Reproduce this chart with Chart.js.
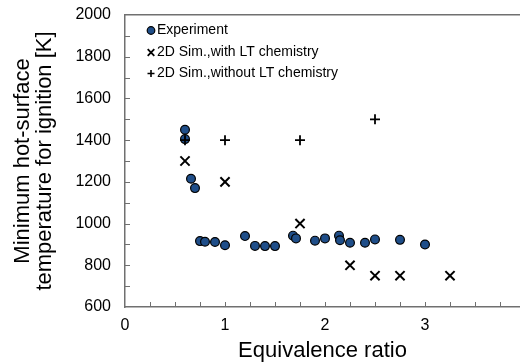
<!DOCTYPE html>
<html>
<head>
<meta charset="utf-8">
<script src="https://cdn.jsdelivr.net/npm/chart.js@4/dist/chart.umd.min.js"></script>
<style>
  html, body { margin: 0; padding: 0; background: #fff; }
  #wrap { width: 520px; height: 364px; }
</style>
</head>
<body>
<div id="wrap"><canvas id="chart" width="520" height="364"></canvas></div>
<script>
// Experiment
var expX = [0.6, 0.6, 0.66, 0.7, 0.75, 0.8, 0.9, 1.0, 1.2, 1.3, 1.4, 1.5, 1.68, 1.71, 1.9, 2.0, 2.14, 2.15, 2.25, 2.4, 2.5, 2.75, 3.0];
var expT = [1450, 1405, 1215, 1170, 916, 913, 912, 896, 940, 893, 892, 892, 942, 929, 918, 929, 942, 920, 908, 908, 924, 922, 900];
// 2D sim, with LT chemistry
var withLtX = [0.6, 1.0, 1.75, 2.25, 2.5, 2.75, 3.25];
var withLtT = [1300, 1200, 1000, 800, 750, 750, 750];
// 2D sim, without LT chemistry
var noLtX = [0.6, 1.0, 1.75, 2.5];
var noLtT = [1400, 1400, 1400, 1500];

var seriesNames = ['Experiment', '2D Sim.,with LT chemistry', '2D Sim.,without LT chemistry'];
var xTicks = [0, 1, 2, 3];
var yTicks = [600, 800, 1000, 1200, 1400, 1600, 1800, 2000];

function pts(xs, ys) {
    return xs.map(function (x, i) { return { x: x, y: ys[i] }; });
}

var axisColor = '#707070';
var fontFamily = "'Liberation Sans', Arial, sans-serif";

// small tick marks drawn inside the plot, plus the legend in the top-left corner
var innerTicks = {
    id: 'innerTicks',
    afterDraw: function (chart) {
        var ctx = chart.ctx, xs = chart.scales.x, ys = chart.scales.y;
        var a = chart.chartArea;
        ctx.save();
        ctx.strokeStyle = axisColor;
        ctx.lineWidth = 1;
        for (var v = 700; v < 2000; v += 100) {
            var py = Math.round(ys.getPixelForValue(v)) + 0.5;
            ctx.beginPath();
            ctx.moveTo(a.left, py);
            ctx.lineTo(a.left + 5, py);
            ctx.stroke();
        }
        for (var u = 0.25; u < 3.95; u += 0.25) {
            var px = Math.round(xs.getPixelForValue(u)) + 0.5;
            ctx.beginPath();
            ctx.moveTo(px, a.bottom);
            ctx.lineTo(px, a.bottom - 5);
            ctx.stroke();
        }
        ctx.restore();

        // legend
        var rows = [30.5, 52.5, 73.5];
        var mx = 151, tx = 157;
        ctx.save();
        ctx.font = '14px ' + fontFamily;
        ctx.textBaseline = 'middle';
        chart.data.datasets.forEach(function (ds, i) {
            var y = rows[i];
            ctx.fillStyle = ds.backgroundColor;
            ctx.strokeStyle = ds.borderColor;
            ctx.beginPath();
            if (ds.pointStyle === 'circle') {
                ctx.lineWidth = 1.2;
                ctx.arc(mx, y, 3.8, 0, Math.PI * 2);
                ctx.fill();
                ctx.stroke();
            } else if (ds.pointStyle === 'crossRot') {
                ctx.lineWidth = 1.8;
                var r = 3.3;
                ctx.moveTo(mx - r, y - r); ctx.lineTo(mx + r, y + r);
                ctx.moveTo(mx + r, y - r); ctx.lineTo(mx - r, y + r);
                ctx.stroke();
            } else {
                ctx.lineWidth = 1.6;
                var q = 3.5;
                ctx.moveTo(mx - q, y); ctx.lineTo(mx + q, y);
                ctx.moveTo(mx, y - q); ctx.lineTo(mx, y + q);
                ctx.stroke();
            }
            ctx.fillStyle = '#000';
            ctx.fillText(ds.label, tx, y);
        });
        ctx.restore();
    }
};

function plain(v) { return String(v); }

var ctx = document.getElementById('chart').getContext('2d');
var chart = new Chart(ctx, {
    type: 'scatter',
    data: {
        datasets: [{
            label: seriesNames[0],
            data: pts(expX, expT),
            pointStyle: 'circle',
            pointRadius: 4.4,
            backgroundColor: '#1f4e89',
            borderColor: '#000',
            borderWidth: 1.2,
            order: 2
        }, {
            label: seriesNames[1],
            data: pts(withLtX, withLtT),
            pointStyle: 'crossRot',
            pointRadius: 6.5,
            backgroundColor: '#000',
            borderColor: '#000',
            borderWidth: 2,
            order: 1
        }, {
            label: seriesNames[2],
            data: pts(noLtX, noLtT),
            pointStyle: 'cross',
            pointRadius: 5,
            backgroundColor: '#000',
            borderColor: '#000',
            borderWidth: 1.8,
            order: 0
        }]
    },
    options: {
        responsive: false,
        animation: false,
        events: [],
        layout: { padding: 0, autoPadding: false },
        plugins: {
            legend: { display: false },
            tooltip: { enabled: false }
        },
        scales: {
            x: {
                type: 'linear',
                position: 'bottom',
                min: 0,
                max: 3.95,
                afterFit: function (s) { s.height = 57; s.paddingLeft = 0; s.paddingRight = 0; },
                afterBuildTicks: function (s) {
                    s.ticks = xTicks.map(function (v) { return { value: v }; });
                },
                ticks: {
                    color: '#000',
                    font: { family: fontFamily, size: 16 },
                    padding: 9,
                    maxRotation: 0,
                    callback: plain
                },
                grid: { display: true, drawOnChartArea: false, drawTicks: false },
                border: { display: true, color: axisColor, width: 1.5 },
                title: {
                    display: true,
                    text: 'Equivalence ratio',
                    color: '#000',
                    font: { family: fontFamily, size: 22 },
                    padding: { top: 5, bottom: 0 }
                }
            },
            x2: {
                type: 'linear',
                position: 'top',
                min: 0,
                max: 3.95,
                afterFit: function (s) { s.height = 15; s.paddingLeft = 0; s.paddingRight = 0; },
                ticks: { display: false },
                grid: { display: true, drawOnChartArea: false, drawTicks: false },
                border: { display: true, color: axisColor, width: 1.5 }
            },
            y: {
                type: 'linear',
                min: 600,
                max: 2000,
                afterFit: function (s) { s.width = 125; s.paddingTop = 0; s.paddingBottom = 0; },
                afterBuildTicks: function (s) {
                    s.ticks = yTicks.map(function (v) { return { value: v }; });
                },
                ticks: {
                    color: '#000',
                    font: { family: fontFamily, size: 16 },
                    padding: 14,
                    callback: plain
                },
                grid: { display: true, drawOnChartArea: false, drawTicks: false },
                border: { display: true, color: axisColor, width: 1.5 },
                title: {
                    display: true,
                    text: ['Minimum hot-surface', 'temperature for ignition [K]'],
                    color: '#000',
                    font: { family: fontFamily, size: 22, lineHeight: 1.0 },
                    padding: { top: 12, bottom: 0 }
                }
            }
        }
    },
    plugins: [innerTicks]
});
</script>
</body>
</html>
